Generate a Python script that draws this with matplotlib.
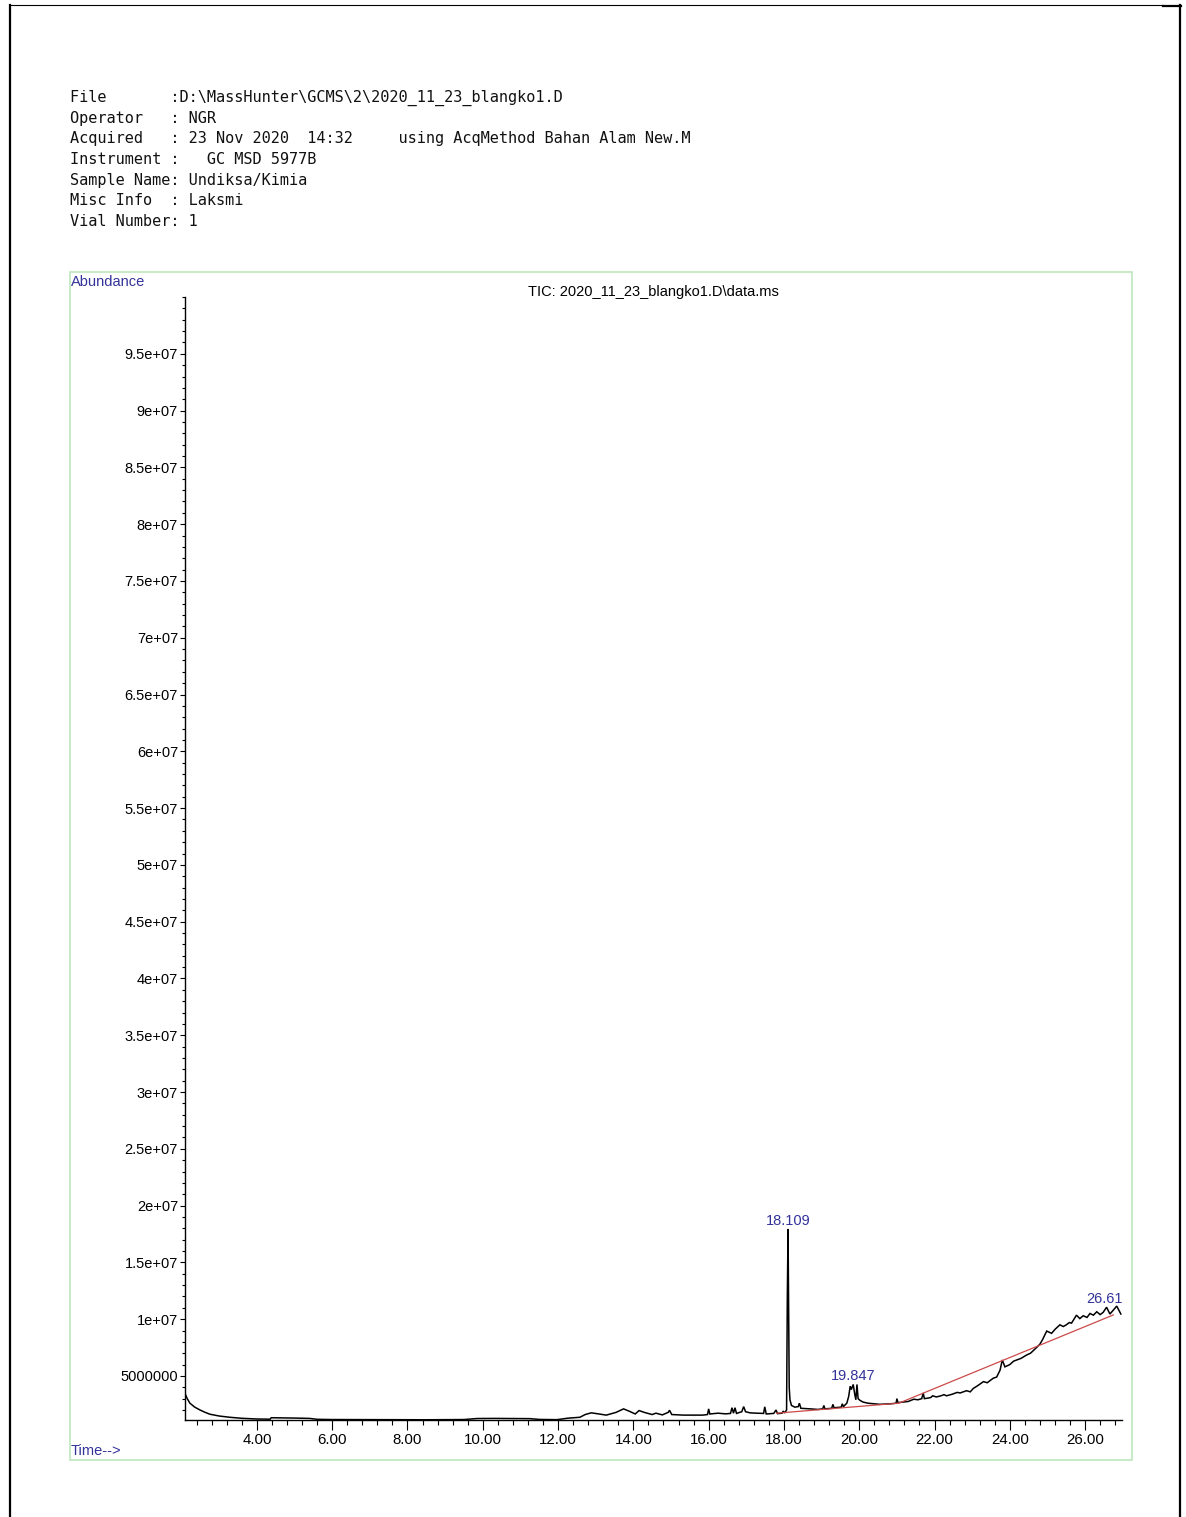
import matplotlib
matplotlib.use('Agg')
import matplotlib.pyplot as plt
from matplotlib.ticker import MultipleLocator, FixedLocator, FixedFormatter
from matplotlib.patches import Rectangle
from matplotlib.lines import Line2D

# ---------------- data ----------------
header_lines = [
    "File       :D:\\MassHunter\\GCMS\\2\\2020_11_23_blangko1.D",
    "Operator   : NGR",
    "Acquired   : 23 Nov 2020  14:32     using AcqMethod Bahan Alam New.M",
    "Instrument :   GC MSD 5977B",
    "Sample Name: Undiksa/Kimia",
    "Misc Info  : Laksmi",
    "Vial Number: 1",
]
plot_title = "TIC: 2020_11_23_blangko1.D\\data.ms"

time_min = [
    2.09, 2.15, 2.22, 2.35, 2.49, 2.62, 2.75, 3.00, 3.28, 3.60, 3.99, 4.35, 4.38,
    4.60, 5.00, 5.40, 5.60, 6.00, 7.00, 8.00, 8.50, 9.00, 9.50, 9.85, 10.30, 10.80,
    11.25, 11.50, 11.97, 12.26, 12.58, 12.72, 12.88, 13.03, 13.28, 13.54, 13.74,
    13.90, 14.05, 14.15, 14.30, 14.50, 14.60, 14.77, 14.93, 14.96, 15.02, 15.33,
    15.84, 15.97, 16.00, 16.03, 16.25, 16.45, 16.58, 16.62, 16.66, 16.70, 16.74,
    16.88, 16.93, 16.98, 17.10, 17.27, 17.46, 17.49, 17.53, 17.73, 17.79, 17.83,
    17.95, 17.98, 18.02, 18.07, 18.09, 18.109, 18.125, 18.14, 18.16, 18.20, 18.29,
    18.38, 18.41, 18.45, 18.70, 18.90, 19.03, 19.06, 19.09, 19.27, 19.30, 19.33,
    19.52, 19.55, 19.58, 19.67, 19.72, 19.76, 19.79, 19.84, 19.88, 19.91, 19.94,
    19.97, 20.02, 20.10, 20.23, 20.54, 20.84, 20.98, 21.00, 21.03, 21.30, 21.45,
    21.56, 21.66, 21.70, 21.73, 21.83, 21.90, 21.95, 22.05, 22.17, 22.25, 22.32,
    22.48, 22.60, 22.68, 22.85, 22.95, 23.03, 23.15, 23.30, 23.40, 23.56, 23.65,
    23.74, 23.80, 23.87, 24.00, 24.10, 24.18, 24.30, 24.45, 24.55, 24.71, 24.80,
    24.87, 24.98, 25.11, 25.20, 25.33, 25.42, 25.50, 25.58, 25.64, 25.77, 25.86,
    25.95, 26.05, 26.13, 26.22, 26.31, 26.40, 26.48, 26.57, 26.66, 26.75, 26.84,
    26.95,
]
abundance = [
    3.45e6, 3.00e6, 2.60e6, 2.25e6, 2.00e6, 1.80e6, 1.63e6, 1.47e6, 1.36e6, 1.27e6,
    1.21e6, 1.19e6, 1.32e6, 1.31e6, 1.29e6, 1.26e6, 1.18e6, 1.16e6, 1.15e6, 1.14e6,
    1.14e6, 1.15e6, 1.16e6, 1.25e6, 1.26e6, 1.25e6, 1.24e6, 1.17e6, 1.15e6, 1.28e6,
    1.36e6, 1.60e6, 1.75e6, 1.68e6, 1.55e6, 1.79e6, 2.10e6, 1.88e6, 1.65e6, 1.95e6,
    1.78e6, 1.60e6, 1.72e6, 1.57e6, 1.80e6, 1.98e6, 1.60e6, 1.55e6, 1.55e6, 1.60e6,
    2.10e6, 1.65e6, 1.72e6, 1.66e6, 1.70e6, 2.20e6, 1.72e6, 2.20e6, 1.70e6, 1.85e6,
    2.30e6, 1.85e6, 1.75e6, 1.72e6, 1.70e6, 2.28e6, 1.65e6, 1.70e6, 2.00e6, 1.68e6,
    1.72e6, 1.90e6, 1.75e6, 2.00e6, 1.20e7, 1.794e7, 1.10e7, 4.00e6, 2.90e6, 2.40e6,
    2.25e6, 2.30e6, 2.60e6, 2.15e6, 2.10e6, 2.05e6, 2.10e6, 2.40e6, 2.10e6, 2.15e6,
    2.50e6, 2.20e6, 2.25e6, 2.55e6, 2.30e6, 2.60e6, 3.20e6, 4.10e6, 3.80e6, 4.25e6,
    3.40e6, 2.90e6, 4.25e6, 3.00e6, 2.85e6, 2.70e6, 2.60e6, 2.50e6, 2.55e6, 2.60e6,
    3.00e6, 2.65e6, 2.75e6, 2.95e6, 2.90e6, 3.00e6, 3.50e6, 3.00e6, 3.05e6, 3.10e6,
    3.25e6, 3.15e6, 3.25e6, 3.35e6, 3.25e6, 3.40e6, 3.55e6, 3.50e6, 3.70e6, 3.60e6,
    3.90e6, 4.15e6, 4.50e6, 4.40e6, 4.80e6, 4.90e6, 5.50e6, 6.40e6, 5.80e6, 6.00e6,
    6.30e6, 6.40e6, 6.55e6, 6.85e6, 7.00e6, 7.50e6, 7.80e6, 8.20e6, 8.95e6, 8.75e6,
    9.10e6, 9.50e6, 9.35e6, 9.50e6, 9.70e6, 9.65e6, 1.035e7, 1.005e7, 1.030e7,
    1.015e7, 1.050e7, 1.035e7, 1.065e7, 1.040e7, 1.060e7, 1.105e7, 1.045e7,
    1.080e7, 1.115e7, 1.045e7,
]

# integration baselines (red)
baseline1_t = [17.81, 21.05]
baseline1_v = [1.72e6, 2.60e6]
baseline2_t = [21.05, 26.75]
baseline2_v = [2.60e6, 1.037e7]

# peak labels
peak_labels = ["18.109", "19.847", "26.61"]
peak_label_t = [18.109, 19.84, 26.52]
peak_label_v = [1.80e7, 4.35e6, 1.12e7]

# ticks
x_major = [4, 6, 8, 10, 12, 14, 16, 18, 20, 22, 24, 26]
x_major_labels = ["4.00", "6.00", "8.00", "10.00", "12.00", "14.00", "16.00",
                  "18.00", "20.00", "22.00", "24.00", "26.00"]
y_major = [5e6, 1e7, 1.5e7, 2e7, 2.5e7, 3e7, 3.5e7, 4e7, 4.5e7, 5e7, 5.5e7, 6e7,
           6.5e7, 7e7, 7.5e7, 8e7, 8.5e7, 9e7, 9.5e7]
y_major_labels = ["5000000", "1e+07", "1.5e+07", "2e+07", "2.5e+07", "3e+07",
                  "3.5e+07", "4e+07", "4.5e+07", "5e+07", "5.5e+07", "6e+07",
                  "6.5e+07", "7e+07", "7.5e+07", "8e+07", "8.5e+07", "9e+07",
                  "9.5e+07"]

# ---------------- figure ----------------
W, H = 1186, 1517
fig = plt.figure(figsize=(W / 100, H / 100), dpi=100)
fig.patch.set_facecolor('white')


def fx(px):
    return px / W


def fy(py):
    return 1 - py / H


SANS = ['Liberation Sans', 'DejaVu Sans']
BLUE = '#33339a'

# page border lines
fig.add_artist(Line2D([fx(10), fx(10)], [fy(5), 0], transform=fig.transFigure,
                      color='black', lw=1.6))
fig.add_artist(Line2D([fx(1180), fx(1180)], [fy(5), 0], transform=fig.transFigure,
                      color='black', lw=1.6))
fig.add_artist(Line2D([fx(10), fx(1163)], [fy(5), fy(5)], transform=fig.transFigure,
                      color='black', lw=0.8))
fig.add_artist(Line2D([fx(1163), fx(1181)], [fy(5.5), fy(5.5)], transform=fig.transFigure,
                      color='black', lw=1.6))

# header
for i, line in enumerate(header_lines):
    fig.text(fx(70), fy(98 + i * 20.5), line, family='DejaVu Sans Mono',
             fontsize=11.0, va='center', ha='left', color='#111111')

# green frame
fig.add_artist(Rectangle((fx(70), fy(1460)), fx(1132) - fx(70), fy(272) - fy(1460),
                         transform=fig.transFigure, fill=False,
                         edgecolor='#bfe6bf', lw=1.2))

fig.text(fx(71), fy(282), "Abundance", family=SANS, fontsize=10.5,
         color=BLUE, va='center', ha='left')
fig.text(fx(71), fy(1451), "Time-->", family=SANS, fontsize=10.5,
         color=BLUE, va='center', ha='left')

# axes
ax = fig.add_axes([fx(185), fy(1420), fx(1122) - fx(185), fy(297) - fy(1420)])
ax.set_facecolor('none')
ax.plot(time_min, abundance, color='black', lw=1.1, solid_joinstyle='miter')
ax.plot(baseline1_t, baseline1_v, color='#cc4a4a', lw=0.9)
ax.plot(baseline2_t, baseline2_v, color='#cc4a4a', lw=0.9)

for lab, t, v in zip(peak_labels, peak_label_t, peak_label_v):
    ax.text(t, v, lab, family=SANS, fontsize=10.5, color=BLUE,
            ha='center', va='bottom')

ax.set_xlim(2.09, 26.98)
ax.set_ylim(1.12e6, 1.0e8)

for s in ['top', 'right']:
    ax.spines[s].set_visible(False)
for s in ['left', 'bottom']:
    ax.spines[s].set_linewidth(1.0)
    ax.spines[s].set_color('black')

ax.xaxis.set_major_locator(FixedLocator(x_major))
ax.xaxis.set_major_formatter(FixedFormatter(x_major_labels))
ax.xaxis.set_minor_locator(MultipleLocator(0.4))
ax.yaxis.set_major_locator(FixedLocator(y_major))
ax.yaxis.set_major_formatter(FixedFormatter(y_major_labels))
ax.yaxis.set_minor_locator(MultipleLocator(1e6))

ax.tick_params(axis='x', which='major', direction='out', length=7, width=0.8,
               pad=2.5, labelsize=10.8, colors='black')
ax.tick_params(axis='x', which='minor', direction='out', length=3.5, width=0.8)
ax.tick_params(axis='y', which='major', direction='out', length=3.5, width=0.8,
               pad=1.5, labelsize=10.5, colors='black')
ax.tick_params(axis='y', which='minor', direction='out', length=2.2, width=0.8)
for lbl in ax.get_xticklabels() + ax.get_yticklabels():
    lbl.set_family(SANS)

fig.text(fx(653), fy(292), plot_title, family=SANS, fontsize=10.5,
         color='black', ha='center', va='center')

fig.savefig('out.png', dpi=100, facecolor='white')
